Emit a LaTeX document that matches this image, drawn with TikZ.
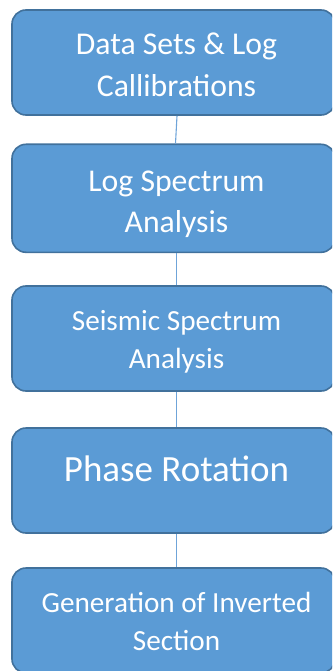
\documentclass[tikz,border=0pt]{standalone}
\usepackage{fontspec}
\setmainfont{Carlito}
\definecolor{boxfill}{HTML}{5B9BD5}
\definecolor{boxline}{HTML}{41719C}
\definecolor{linkc}{HTML}{6FA4D9}
\begin{document}
\begin{tikzpicture}[x=1pt,y=-1pt,
  stepbox/.style={draw=boxline, line width=1.6pt, fill=boxfill, rounded corners=14pt,
    minimum width=323pt, inner sep=0pt},
  lbl/.style={text=white, align=center, inner sep=0pt, anchor=base},
  link/.style={draw=linkc, line width=1.1pt}]
\useasboundingbox (0,0) rectangle (332,671);
\clip (0,0) rectangle (332,671);
\node[stepbox, minimum height=105pt] (b1) at (173.5,62.5) {};
\node[stepbox, minimum height=108pt] (b2) at (173.5,198.3) {};
\node[stepbox, minimum height=105pt] (b3) at (173.5,338.5) {};
\node[stepbox, minimum height=105pt] (b4) at (173.5,480.5) {};
\node[stepbox, minimum height=105pt] (b5) at (173.5,620.5) {};
\draw[link] ([xshift=3.5pt]b1.south) -- ([xshift=2pt]b2.north);
\draw[link] ([xshift=3pt]b2.south) -- ([xshift=3pt]b3.north);
\draw[link] ([xshift=3pt]b3.south) -- ([xshift=3pt]b4.north);
\draw[link] ([xshift=3pt]b4.south) -- ([xshift=3pt]b5.north);
\node[lbl, font=\fontsize{31.7}{42}\selectfont] (t1) at (176.5,97) {Data Sets \& Log\\Callibrations};
\node[lbl, font=\fontsize{31.7}{40.7}\selectfont] (t2) at (176.5,232.3) {Log Spectrum\\Analysis};
\node[lbl, font=\fontsize{29.2}{37.7}\selectfont] (t3) at (176.5,368.3) {Seismic Spectrum\\Analysis};
\node[lbl, font=\fontsize{37}{44}\selectfont] (t4) at (176.5,481) {Phase Rotation};
\node[lbl, font=\fontsize{29.2}{38}\selectfont] (t5) at (176.5,650.7) {Generation of Inverted\\Section};
\end{tikzpicture}
\end{document}
